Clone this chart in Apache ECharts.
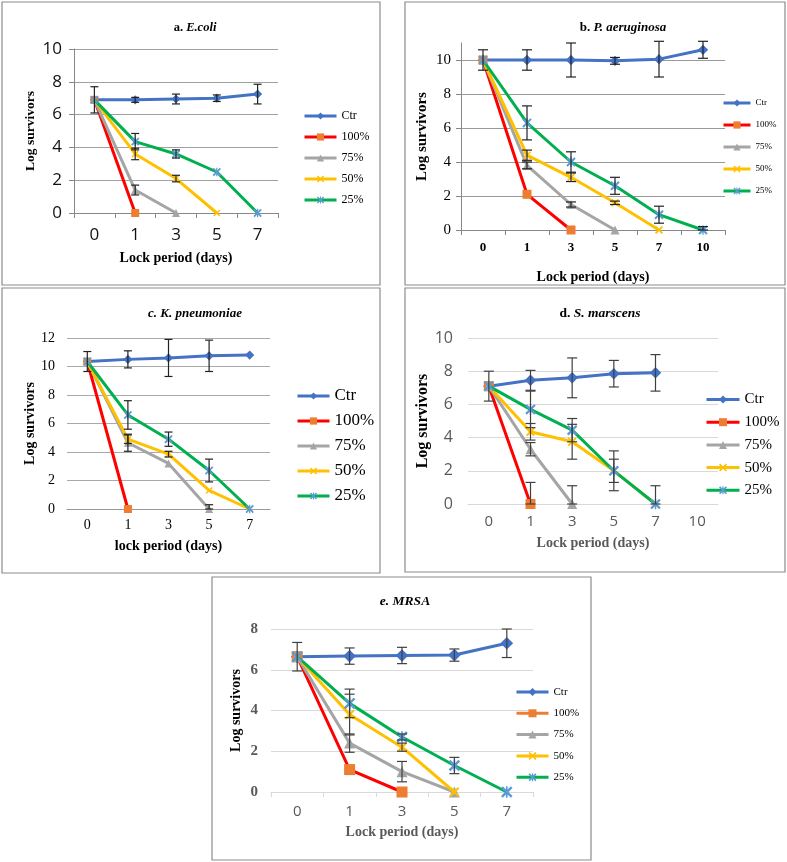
<!DOCTYPE html>
<html><head><meta charset="utf-8">
<script src="https://cdn.jsdelivr.net/npm/echarts@6/dist/echarts.min.js"></script>
<style>html,body{margin:0;padding:0;background:#fff}#c{width:787px;height:862px}</style>
</head><body><div id="c"></div>
<script>
const seriesNames = ['Ctr', '100%', '75%', '50%', '25%'];

// a. E.coli
const aDays = ['0', '1', '3', '5', '7'];
const aCtr = [6.9, 6.9, 6.95, 7.0, 7.25];
const a100 = [6.9, 0, null, null, null];
const a75 = [6.9, 1.4, 0, null, null];
const a50 = [6.9, 3.6, 2.1, 0, null];
const a25 = [6.9, 4.35, 3.6, 2.5, 0];
const aCtrErr = [0.8, 0.15, 0.3, 0.2, 0.6];
const a100Err = [0, 0, 0, 0, 0];
const a75Err = [0, 0.3, 0, 0, 0];
const a50Err = [0, 0.35, 0.2, 0, 0];
const a25Err = [0, 0.5, 0.25, 0, 0];

// b. P. aeruginosa
const bDays = ['0', '1', '3', '5', '7', '10'];
const bCtr = [10, 10, 10, 9.95, 10.05, 10.6];
const b100 = [10, 2.1, 0, null, null, null];
const b75 = [10, 3.8, 1.5, 0, null, null];
const b50 = [10, 4.4, 3.1, 1.6, 0, null];
const b25 = [10, 6.3, 4.0, 2.6, 0.9, 0];
const bCtrErr = [0.6, 0.6, 1.0, 0.2, 1.05, 0.5];
const b100Err = [0, 0, 0, 0, 0, 0];
const b75Err = [0, 0.2, 0.15, 0, 0, 0];
const b50Err = [0, 0.3, 0.25, 0.1, 0, 0];
const b25Err = [0, 1.0, 0.6, 0.5, 0.5, 0.2];

// c. K. pneumoniae
const cDays = ['0', '1', '3', '5', '7'];
const cCtr = [10.35, 10.5, 10.6, 10.75, 10.8];
const c100 = [10.35, 0, null, null, null];
const c75 = [10.35, 4.65, 3.2, 0, null];
const c50 = [10.35, 4.9, 3.85, 1.3, 0];
const c25 = [10.35, 6.6, 4.9, 2.7, 0];
const cCtrErr = [0.7, 0.6, 1.3, 1.1, 0];
const c100Err = [0, 0, 0, 0, 0];
const c75Err = [0, 0.6, 0, 0.3, 0];
const c50Err = [0, 0.3, 0.2, 0, 0];
const c25Err = [0, 1.0, 0.5, 0.8, 0];

// d. S. marscens
const dDays = ['0', '1', '3', '5', '7', '10'];
const dCtr = [7.1, 7.45, 7.6, 7.85, 7.9, null];
const d100 = [7.1, 0, null, null, null, null];
const d75 = [7.1, 3.3, 0, null, null, null];
const d50 = [7.1, 4.35, 3.75, 2.0, 0, null];
const d25 = [7.1, 5.7, 4.45, 2.0, 0, null];
const dCtrErr = [0.9, 0.6, 1.2, 0.8, 1.1, 0];
const d100Err = [0, 1.3, 0, 0, 0, 0];
const d75Err = [0, 0.4, 1.1, 0, 0, 0];
const d50Err = [0, 0.5, 1.05, 0.7, 0, 0];
const d25Err = [0, 1.1, 0.7, 1.2, 1.1, 0];

// e. MRSA
const eDays = ['0', '1', '3', '5', '7'];
const eCtr = [6.64, 6.67, 6.7, 6.72, 7.3];
const e100 = [6.64, 1.1, 0, null, null];
const e75 = [6.64, 2.4, 1.0, 0, null];
const e50 = [6.64, 3.8, 2.2, 0, null];
const e25 = [6.64, 4.35, 2.7, 1.3, 0];
const eCtrErr = [0.7, 0.4, 0.4, 0.3, 0.7];
const e100Err = [0, 0, 0, 0, 0];
const e75Err = [0, 0.45, 0.5, 0, 0];
const e50Err = [0, 1.0, 0.2, 0, 0];
const e25Err = [0, 0.7, 0.15, 0.4, 0];

// ---------- styles ----------
const SERIF = '"Liberation Serif","Times New Roman",serif';
const SANS = '"Liberation Sans Narrow","Open Sans",Arial,sans-serif';
const X_PATH = 'path://M0,1.5L1.5,0L5,3.5L8.5,0L10,1.5L6.5,5L10,8.5L8.5,10L5,6.5L1.5,10L0,8.5L3.5,5Z';
const STAR_PATH = X_PATH + 'M4.3,0L5.7,0L5.7,10L4.3,10Z';
const seriesStyle = [
  { line: '#4472C4', mark: '#4472C4', symbol: 'diamond', k: 1.15 },
  { line: '#FF0000', mark: '#ED7D31', symbol: 'rect', k: 1.0 },
  { line: '#A5A5A5', mark: '#A5A5A5', symbol: 'triangle', k: 1.0 },
  { line: '#FFC000', mark: '#FFC000', symbol: X_PATH, k: 0.9 },
  { line: '#00B050', mark: '#5B9BD5', symbol: STAR_PATH, k: 1.05 }
];

const panels = [
  {
    cats: aDays, vals: [aCtr, a100, a75, a50, a25], errs: [aCtrErr, a100Err, a75Err, a50Err, a25Err],
    box: [2, 2, 378, 283], grid: [74, 49, 204, 164], yMax: 10,
    title: '{n|a. }{i|E.coli}', titlePos: [190, 16], titleSize: 12.5,
    yLabel: { fontFamily: SANS, fontSize: 17, color: '#111', margin: 12 },
    xLabel: { fontFamily: SANS, fontSize: 17, color: '#111', margin: 14 },
    yName: { fontFamily: SERIF, fontWeight: 'bold', fontSize: 13.5, color: '#000' }, yNameGap: 36,
    xName: 'Lock period (days)', xNameStyle: { fontFamily: SERIF, fontWeight: 'bold', fontSize: 14, color: '#000' }, xNameGap: 38,
    yLine: true, xTicks: true, axisColor: '#888', gridColor: '#A0A0A0',
    legend: { left: 303, top: 110, itemWidth: 32, itemHeight: 9, lh: 12, step: 21, fontSize: 12 },
    sym: 8, lw: 3, cap: 4, errColor: '#222'
  },
  {
    cats: bDays, vals: [bCtr, b100, b75, b50, b25], errs: [bCtrErr, b100Err, b75Err, b50Err, b25Err],
    box: [405, 2, 380, 283], grid: [461, 43, 264, 187], yMax: 11,
    title: '{n|b. }{i|P. aeruginosa}', titlePos: [618, 16], titleSize: 13,
    yLabel: { fontFamily: SERIF, fontSize: 15, color: '#000', margin: 10 },
    xLabel: { fontFamily: SERIF, fontWeight: 'bold', fontSize: 13, color: '#000', margin: 11 },
    yName: { fontFamily: SERIF, fontWeight: 'bold', fontSize: 15, color: '#000' }, yNameGap: 31,
    xName: 'Lock period (days)', xNameStyle: { fontFamily: SERIF, fontWeight: 'bold', fontSize: 14, color: '#000' }, xNameGap: 40,
    yLine: true, xTicks: true, axisColor: '#888', gridColor: '#999',
    legend: { left: 722, top: 98, itemWidth: 27, itemHeight: 9, lh: 10, step: 22, fontSize: 9 },
    sym: 9, lw: 3, cap: 5, errColor: '#222'
  },
  {
    cats: cDays, vals: [cCtr, c100, c75, c50, c25], errs: [cCtrErr, c100Err, c75Err, c50Err, c25Err],
    box: [2, 288, 378, 285], grid: [67, 338, 203, 171], yMax: 12,
    title: '{i|c. K. pneumoniae}', titlePos: [190, 302], titleSize: 13,
    yLabel: { fontFamily: SERIF, fontSize: 14, color: '#000', margin: 12 },
    xLabel: { fontFamily: SERIF, fontSize: 14, color: '#000', margin: 9 },
    yName: { fontFamily: SERIF, fontWeight: 'bold', fontSize: 14, color: '#000' }, yNameGap: 30,
    xName: 'lock period (days)', xNameStyle: { fontFamily: SERIF, fontWeight: 'bold', fontSize: 14, color: '#000' }, xNameGap: 30,
    yLine: false, xTicks: false, axisColor: '#999', gridColor: '#AAA',
    legend: { left: 296, top: 387, itemWidth: 32, itemHeight: 9, lh: 18, step: 25, fontSize: 17 },
    sym: 8, lw: 3, cap: 4, errColor: '#222'
  },
  {
    cats: dDays, vals: [dCtr, d100, d75, d50, d25], errs: [dCtrErr, d100Err, d75Err, d50Err, d25Err],
    box: [405, 288, 380, 284], grid: [468, 338, 250, 166], yMax: 10,
    title: '{n|d. }{i|S. marscens}', titlePos: [595, 302], titleSize: 13.5,
    yLabel: { fontFamily: SANS, fontSize: 16, color: '#595959', margin: 15 },
    xLabel: { fontFamily: SANS, fontSize: 15, color: '#595959', margin: 10 },
    yName: { fontFamily: SERIF, fontWeight: 'bold', fontSize: 16, color: '#000' }, yNameGap: 35,
    xName: 'Lock period (days)', xNameStyle: { fontFamily: SERIF, fontWeight: 'bold', fontSize: 14, color: '#595959' }, xNameGap: 32,
    yLine: false, xTicks: false, axisColor: '#D9D9D9', gridColor: '#D9D9D9',
    legend: { left: 705, top: 391, itemWidth: 33, itemHeight: 10, lh: 17, step: 22.7, fontSize: 15 },
    sym: 10, lw: 3, cap: 5, errColor: '#404040'
  },
  {
    cats: eDays, vals: [eCtr, e100, e75, e50, e25], errs: [eCtrErr, e100Err, e75Err, e50Err, e25Err],
    box: [212, 577, 379, 283], grid: [271, 629, 262, 163], yMax: 8,
    title: '{i|e. MRSA}', titlePos: [400, 590], titleSize: 13.5,
    yLabel: { fontFamily: SERIF, fontWeight: 'bold', fontSize: 15, color: '#595959', margin: 13 },
    xLabel: { fontFamily: SANS, fontSize: 15, color: '#595959', margin: 12 },
    yName: { fontFamily: SERIF, fontWeight: 'bold', fontSize: 14, color: '#000' }, yNameGap: 28,
    xName: 'Lock period (days)', xNameStyle: { fontFamily: SERIF, fontWeight: 'bold', fontSize: 14, color: '#595959' }, xNameGap: 33,
    yLine: false, xTicks: true, axisColor: '#D9D9D9', gridColor: '#D9D9D9',
    legend: { left: 515, top: 686, itemWidth: 32, itemHeight: 10, lh: 12, step: 21.3, fontSize: 11, line100: '#ED7D31' },
    sym: 11, lw: 3, cap: 5, errColor: '#404040'
  }
];

function errRender(cap, color) {
  return function (params, api) {
    const i = api.value(0), v = api.value(1), e = api.value(2);
    const hi = api.coord([i, v + e]);
    const lo = api.coord([i, Math.max(0, v - e)]);
    const st = { stroke: color, lineWidth: 1.2 };
    return {
      type: 'group', children: [
        { type: 'line', shape: { x1: hi[0], y1: hi[1], x2: lo[0], y2: lo[1] }, style: st },
        { type: 'line', shape: { x1: hi[0] - cap, y1: hi[1], x2: hi[0] + cap, y2: hi[1] }, style: st },
        { type: 'line', shape: { x1: lo[0] - cap, y1: lo[1], x2: lo[0] + cap, y2: lo[1] }, style: st }
      ]
    };
  };
}

const option = { animation: false, backgroundColor: '#fff', grid: [], xAxis: [], yAxis: [], series: [], legend: [], title: [], graphic: [] };

panels.forEach(function (p, k) {
  option.graphic.push({ type: 'rect', shape: { x: p.box[0], y: p.box[1], width: p.box[2], height: p.box[3] }, style: { fill: null, stroke: '#8C8C8C', lineWidth: 1.2 }, z: -1 });
  option.title.push({
    text: p.title, left: p.titlePos[0], top: p.titlePos[1], textAlign: 'center',
    textStyle: { rich: {
      n: { fontFamily: SERIF, fontWeight: 'bold', fontSize: p.titleSize, color: '#000' },
      i: { fontFamily: SERIF, fontWeight: 'bold', fontStyle: 'italic', fontSize: p.titleSize, color: '#000' }
    } }
  });
  option.grid.push({ left: p.grid[0], top: p.grid[1], width: p.grid[2], height: p.grid[3] });
  option.xAxis.push({
    type: 'category', gridIndex: k, data: p.cats, boundaryGap: true,
    axisLine: { show: true, lineStyle: { color: p.axisColor, width: 1 } },
    axisTick: { show: p.xTicks, length: 5, alignWithLabel: false, lineStyle: { color: p.axisColor } },
    axisLabel: p.xLabel,
    name: p.xName, nameLocation: 'middle', nameGap: p.xNameGap, nameTextStyle: p.xNameStyle
  });
  const evenMax = p.yMax % 2 === 0;
  option.yAxis.push({
    type: 'value', gridIndex: k, min: 0, max: p.yMax, interval: 2,
    axisLine: { show: p.yLine, lineStyle: { color: p.axisColor } },
    axisTick: { show: p.yLine, length: 5, lineStyle: { color: p.axisColor } },
    axisLabel: Object.assign({ showMaxLabel: evenMax }, p.yLabel),
    splitLine: { show: true, showMaxLine: evenMax, lineStyle: { color: p.gridColor, width: 1 } },
    name: 'Log survivors', nameLocation: 'middle', nameGap: p.yNameGap, nameTextStyle: p.yName
  });
  const legendData = [];
  seriesNames.forEach(function (nm, s) {
    const st = seriesStyle[s];
    option.series.push({
      type: 'line', name: nm, xAxisIndex: k, yAxisIndex: k, data: p.vals[s],
      symbol: st.symbol, symbolSize: p.sym * st.k,
      lineStyle: { color: st.line, width: p.lw },
      itemStyle: { color: st.mark },
      z: 2 + s
    });
    const item = { name: nm };
    if (s === 1 && p.legend.line100) item.lineStyle = { color: p.legend.line100, width: 3 };
    legendData.push(item);
    const ed = [];
    p.errs[s].forEach(function (e, i) { if (e > 0 && p.vals[s][i] != null) ed.push([i, p.vals[s][i], e]); });
    if (ed.length) {
      option.series.push({
        type: 'custom', name: nm + ' err', xAxisIndex: k, yAxisIndex: k, data: ed,
        encode: { x: 0, y: 1 }, renderItem: errRender(p.cap, p.errColor), z: 10, silent: true
      });
    }
  });
  const L = p.legend;
  option.legend.push({
    data: legendData, orient: 'vertical', left: L.left, top: L.top,
    itemWidth: L.itemWidth, itemHeight: L.itemHeight, itemGap: L.step - L.lh,
    lineStyle: { width: 3 },
    textStyle: { fontFamily: SERIF, fontSize: L.fontSize, color: '#000', lineHeight: L.lh },
    selectedMode: false, padding: 0
  });
});

const chart = echarts.init(document.getElementById('c'), null, { renderer: 'canvas' });
chart.setOption(option);
</script>
</body></html>
